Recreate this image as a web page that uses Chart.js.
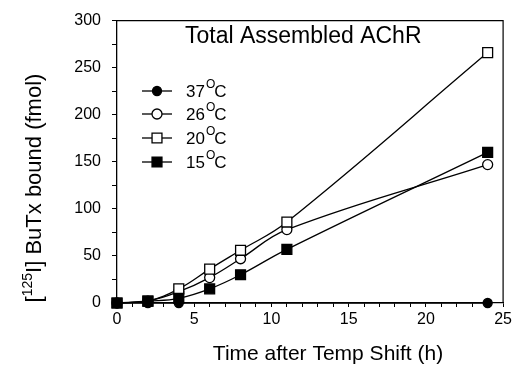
<!DOCTYPE html>
<html lang="en">
<head>
    <meta charset="UTF-8">
    <title>Total Assembled AChR</title>
    <script src="https://cdn.jsdelivr.net/npm/chart.js@4/dist/chart.umd.min.js"></script>
    <style>
        html, body { margin: 0; padding: 0; background: #fff; }
        #wrap { width: 515px; height: 369px; }
    </style>
</head>
<body>
    <div id="wrap"><canvas id="chart" width="515" height="369"></canvas></div>

    <script>
        // values (fmol vs hours)
        const hours = [0, 2, 4, 6, 8, 11, 24];
        const hours37 = [0, 2, 4, 24];
        const temp37 = [0, 0, 0, 0];
        const temp26 = [0, 2, 12, 27, 47, 78, 147];
        const temp20 = [0, 2, 15, 36, 56, 86, 266];
        const temp15 = [0, 2, 5, 15, 30, 57, 160];
        const seriesLabels = ['37°C', '26°C', '20°C', '15°C'];
        const xTickLabels = [0, 5, 10, 15, 20, 25];
        const yTickLabels = [0, 50, 100, 150, 200, 250, 300];

        const FONT = '"Liberation Sans", Arial, Helvetica, sans-serif';

        const toPoints = (xs, vals) => xs.map((h, i) => ({ x: h, y: vals[i] }));

        const styles = [
            { style: 'circle', fill: '#000', r: 4.5 },
            { style: 'circle', fill: '#fff', r: 5 },
            { style: 'rect', fill: '#fff', r: 7 },
            { style: 'rect', fill: '#000', r: 7 }
        ];
        const seriesData = [[hours37, temp37], [hours, temp26], [hours, temp20], [hours, temp15]];

        const datasets = seriesData.map((s, i) => ({
            label: seriesLabels[i],
            data: toPoints(s[0], s[1]),
            borderColor: '#000',
            borderWidth: 1.3,
            backgroundColor: styles[i].fill,
            pointStyle: styles[i].style,
            pointRadius: styles[i].r,
            pointBorderColor: '#000',
            pointBorderWidth: 1.3,
            pointBackgroundColor: styles[i].fill,
            tension: 0.4,
            clip: false,
            order: 3 - i
        }));

        function drawMarker(ctx, x, y, s) {
            ctx.beginPath();
            if (s.style === 'circle') {
                ctx.arc(x, y, s.r, 0, Math.PI * 2);
            } else {
                const h = s.r * Math.SQRT1_2;
                ctx.rect(x - h, y - h, 2 * h, 2 * h);
            }
            ctx.fillStyle = s.fill;
            ctx.fill();
            ctx.lineWidth = 1.3;
            ctx.strokeStyle = '#000';
            ctx.stroke();
        }

        const annotations = {
            id: 'annotations',
            afterDraw(chart) {
                const ctx = chart.ctx;
                const area = chart.chartArea;
                ctx.save();

                // frame top + right
                ctx.strokeStyle = '#000';
                ctx.lineWidth = 1.2;
                ctx.beginPath();
                ctx.moveTo(area.left, area.top);
                ctx.lineTo(area.right, area.top);
                ctx.lineTo(area.right, area.bottom);
                ctx.stroke();

                ctx.fillStyle = '#000';
                ctx.textBaseline = 'alphabetic';

                // panel title
                ctx.font = '23px ' + FONT;
                ctx.textAlign = 'left';
                ctx.fillText('Total Assembled AChR', 185, 43);

                // legend
                const rowY = [91, 114, 138, 162];
                seriesLabels.forEach((lab, i) => {
                    const y = rowY[i];
                    ctx.beginPath();
                    ctx.moveTo(142, y);
                    ctx.lineTo(172, y);
                    ctx.lineWidth = 1.3;
                    ctx.strokeStyle = '#000';
                    ctx.stroke();
                    drawMarker(ctx, 157, y, styles[i]);

                    const parts = lab.split('°');
                    ctx.fillStyle = '#000';
                    ctx.font = '17px ' + FONT;
                    let x = 186;
                    ctx.fillText(parts[0], x, y + 6);
                    x += ctx.measureText(parts[0]).width + 1;
                    ctx.font = '12px ' + FONT;
                    ctx.fillText('O', x, y - 3);
                    x += ctx.measureText('O').width - 1;
                    ctx.font = '17px ' + FONT;
                    ctx.fillText(parts[1], x, y + 6);
                });

                // x axis title
                ctx.font = '21px ' + FONT;
                ctx.textAlign = 'center';
                ctx.fillText('Time after Temp Shift (h)', 328, 360);

                // y axis title, rotated, with superscript
                ctx.translate(41, 188);
                ctx.rotate(-Math.PI / 2);
                const big = '22px ' + FONT, small = '14px ' + FONT;
                const segs = [['[', big, 0], ['125', small, -9], ['I] BuTx bound (fmol)', big, 0]];
                let total = 0;
                segs.forEach(s => { ctx.font = s[1]; total += ctx.measureText(s[0]).width; });
                let x = -total / 2;
                ctx.textAlign = 'left';
                segs.forEach(s => {
                    ctx.font = s[1];
                    ctx.fillText(s[0], x, s[2]);
                    x += ctx.measureText(s[0]).width;
                });
                ctx.restore();
            }
        };

        new Chart('chart', {
            type: 'line',
            data: { datasets },
            options: {
                responsive: false,
                animation: false,
                events: [],
                layout: { padding: { left: 0, top: 16, right: 5, bottom: 0 } },
                plugins: { legend: { display: false }, tooltip: { enabled: false } },
                scales: {
                    x: {
                        type: 'linear',
                        min: 0,
                        max: 25,
                        afterFit: (s) => { s.height = 66; },
                        border: { display: true, color: '#000', width: 1.3 },
                        grid: { drawOnChartArea: false, drawTicks: true, tickLength: 4, color: '#000', lineWidth: 1 },
                        ticks: {
                            stepSize: 1,
                            autoSkip: false,
                            maxRotation: 0,
                            padding: 3,
                            color: '#000',
                            font: { family: FONT, size: 16 },
                            callback: (v) => xTickLabels.includes(v) ? String(v) : ''
                        }
                    },
                    y: {
                        min: 0,
                        max: 300,
                        afterFit: (s) => { s.width = 117; },
                        border: { display: true, color: '#000', width: 1.3 },
                        grid: { drawOnChartArea: false, drawTicks: true, tickLength: 5, color: '#000', lineWidth: 1 },
                        ticks: {
                            stepSize: 25,
                            autoSkip: false,
                            padding: 11,
                            color: '#000',
                            font: { family: FONT, size: 16 },
                            callback: (v) => yTickLabels.includes(v) ? String(v) : ''
                        }
                    }
                }
            },
            plugins: [annotations]
        });
    </script>
</body>
</html>
